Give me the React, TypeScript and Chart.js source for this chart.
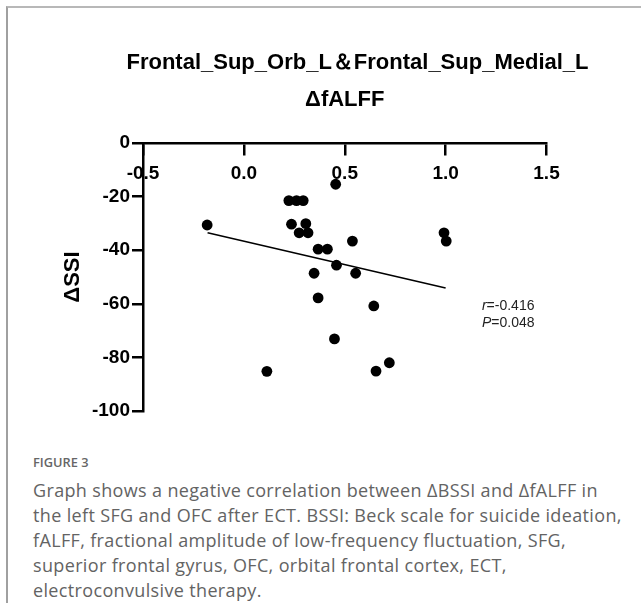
import React, { useEffect, useRef } from 'react';
import { Chart, registerables } from 'chart.js';

Chart.register(...registerables);

const TITLE = 'Frontal_Sup_Orb_L＆Frontal_Sup_Medial_L';
const X_TITLE = 'ΔfALFF';
const Y_TITLE = 'ΔSSI';

const xFALFF = [-0.182, 0.114, 0.455, 0.223, 0.261, 0.294, 0.236, 0.307, 0.274, 0.318, 0.538, 0.368, 0.414, 0.459, 0.348, 0.554, 0.368, 0.644, 0.449, 0.721, 0.655, 0.992, 1.003];
const ySSI = [-30.6, -85.2, -15.4, -21.5, -21.5, -21.5, -30.3, -30.1, -33.5, -33.5, -36.6, -39.6, -39.6, -45.6, -48.6, -48.6, -57.8, -60.8, -73.1, -82.0, -85.1, -33.5, -36.6];

const fitX = [-0.18, 1.0];
const fitY = [-33.5, -54.1];

const xTicks = [-0.5, 0.0, 0.5, 1.0, 1.5];
const yTicks = [-100, -80, -60, -40, -20, 0];

const statLetters = ['r', 'P'];
const statValues = ['=-0.416', '=0.048'];
const statX = 1.18;
const statY = [-60.8, -67.3];

const CAPTION_LABEL = 'FIGURE 3';
const CAPTION_LINES = [
  'Graph shows a negative correlation between ΔBSSI and ΔfALFF in',
  'the left SFG and OFC after ECT. BSSI: Beck scale for suicide ideation,',
  'fALFF, fractional amplitude of low-frequency fluctuation, SFG,',
  'superior frontal gyrus, OFC, orbital frontal cortex, ECT,',
  'electroconvulsive therapy.',
];

const FAMILY = '"Liberation Sans", Arial, Helvetica, sans-serif';

const textPlugin = {
  id: 'extraTexts',
  afterDraw(chart: any) {
    const { ctx, chartArea, scales } = chart;
    ctx.save();
    ctx.fillStyle = '#000';
    ctx.textAlign = 'center';
    ctx.textBaseline = 'middle';
    ctx.font = `bold 22px ${FAMILY}`;
    ctx.fillText(TITLE, 357.5, 63);
    ctx.fillText(X_TITLE, (chartArea.left + chartArea.right) / 2, 100);

    ctx.textAlign = 'left';
    ctx.fillStyle = '#222';
    const px = scales.x.getPixelForValue(statX);
    statLetters.forEach((letter, i) => {
      const py = scales.y.getPixelForValue(statY[i]);
      ctx.font = `italic 14px ${FAMILY}`;
      ctx.fillText(letter, px, py);
      const w = ctx.measureText(letter).width;
      ctx.font = `14px ${FAMILY}`;
      ctx.fillText(statValues[i], px + w, py);
    });
    ctx.restore();
  },
};

export default function App() {
  const ref = useRef<HTMLCanvasElement | null>(null);

  useEffect(() => {
    if (!ref.current) return;
    const tickFont = { family: FAMILY, size: 19, weight: 'bold' as const };
    const grid = {
      display: true,
      drawOnChartArea: false,
      drawTicks: true,
      tickLength: 11,
      tickWidth: 2.5,
      tickColor: '#000',
      color: '#000',
      lineWidth: 2.5,
    };
    const border = { display: true, color: '#000', width: 2.5 };
    const chart = new Chart(ref.current, {
      type: 'scatter',
      data: {
        datasets: [
          {
            type: 'scatter',
            data: xFALFF.map((x, i) => ({ x, y: ySSI[i] })),
            backgroundColor: '#000',
            borderWidth: 0,
            pointRadius: 5.4,
            pointHoverRadius: 5.4,
          },
          {
            type: 'line',
            data: fitX.map((x, i) => ({ x, y: fitY[i] })),
            borderColor: '#000',
            borderWidth: 1.5,
            pointRadius: 0,
            fill: false,
          } as any,
        ],
      },
      options: {
        animation: false,
        responsive: false,
        maintainAspectRatio: false,
        events: [],
        layout: { padding: { left: 59.3, top: 143, right: 94.5, bottom: 39 } },
        plugins: {
          legend: { display: false },
          tooltip: { enabled: false },
          title: { display: false },
        },
        scales: {
          x: {
            type: 'linear',
            position: { y: 0 } as any,
            min: -0.5,
            max: 1.5,
            afterBuildTicks: (s: any) => {
              s.ticks = xTicks.map((v) => ({ value: v }));
            },
            ticks: {
              autoSkip: false,
              maxRotation: 0,
              padding: 8,
              color: '#000',
              font: tickFont,
              callback: (v: any) => Number(v).toFixed(1),
            },
            grid,
            border,
          },
          y: {
            type: 'linear',
            position: 'left',
            min: -100,
            max: 0,
            afterBuildTicks: (s: any) => {
              s.ticks = yTicks.map((v) => ({ value: v }));
            },
            afterFit: (s: any) => {
              s.width = 83.7;
            },
            ticks: {
              autoSkip: false,
              padding: 2,
              color: '#000',
              font: tickFont,
            },
            title: {
              display: true,
              text: Y_TITLE,
              color: '#000',
              padding: 0,
              font: { family: FAMILY, size: 22, weight: 'bold' },
            },
            grid,
            border,
          },
        },
      },
      plugins: [textPlugin],
    });
    return () => chart.destroy();
  }, []);

  return (
    <div style={{ position: 'absolute', left: 0, top: 0, width: 641, height: 606, overflow: 'hidden', background: '#fff' }}>
      <div
        style={{
          position: 'absolute',
          left: 6,
          top: 6,
          width: 700,
          height: 595,
          borderTop: '2px solid #b8b8b8',
          borderLeft: '2px solid #a0a0a0',
        }}
      />
      <canvas ref={ref} width={641} height={450} style={{ position: 'absolute', left: 0, top: 0, width: 641, height: 450 }} />
      <div
        style={{
          position: 'absolute',
          left: 33,
          top: 453,
          fontFamily: '"Open Sans", sans-serif',
          fontSize: 12.8,
          fontWeight: 600,
          color: '#666',
          lineHeight: '18px',
          whiteSpace: 'nowrap',
        }}
      >
        {CAPTION_LABEL}
      </div>
      <div
        style={{
          position: 'absolute',
          left: 33,
          top: 478,
          fontFamily: '"Open Sans", sans-serif',
          fontSize: 18,
          fontWeight: 400,
          letterSpacing: '0.35px',
          color: '#636363',
          lineHeight: '25px',
          whiteSpace: 'nowrap',
        }}
      >
        {CAPTION_LINES.map((l, i) => (
          <div key={i}>{l}</div>
        ))}
      </div>
    </div>
  );
}
